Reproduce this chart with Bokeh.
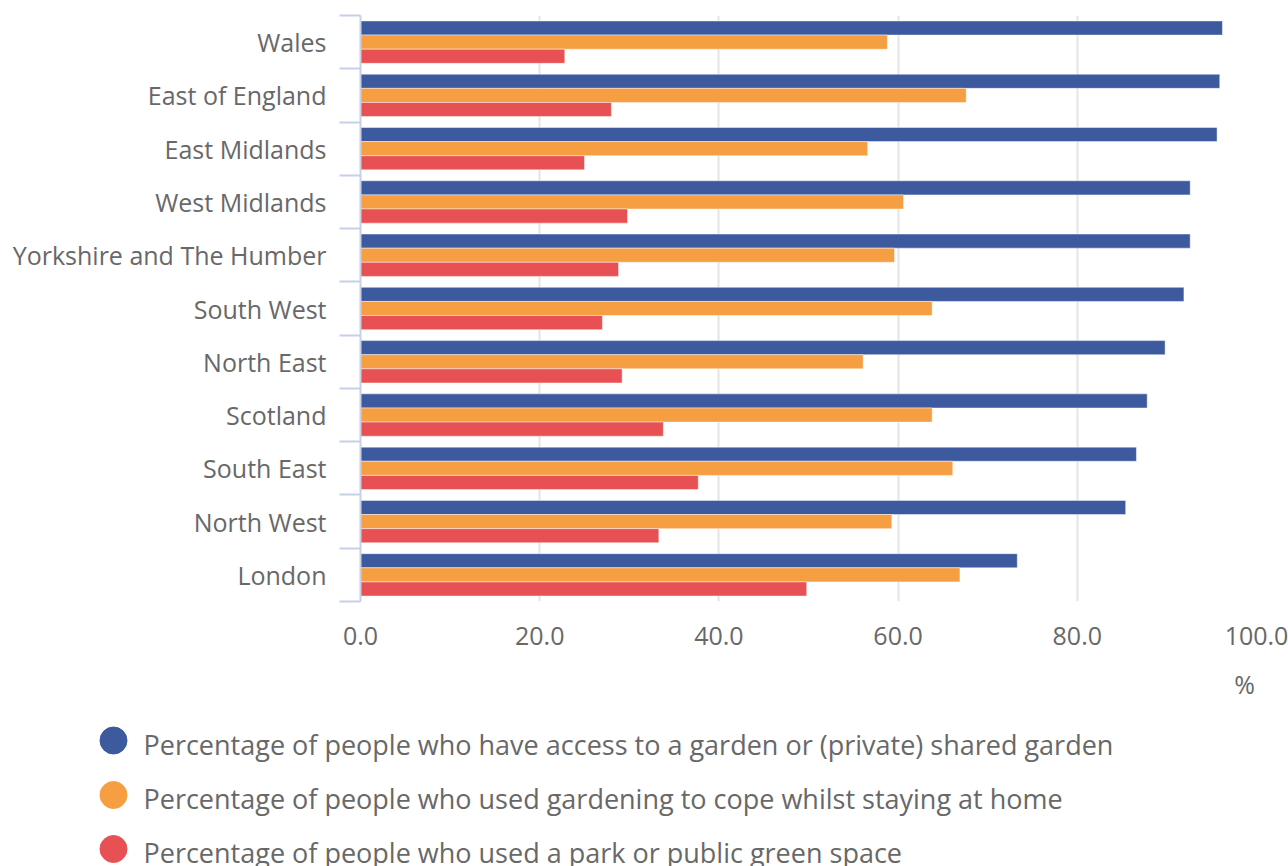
from bokeh.plotting import figure
from bokeh.layouts import column
from bokeh.models import (Range1d, FixedTicker, ColumnDataSource, PrintfTickFormatter)
from bokeh.core.properties import value
from bokeh.transform import dodge
from bokeh.embed import file_html
from bokeh.resources import INLINE

regions = ["Wales", "East of England", "East Midlands", "West Midlands",
           "Yorkshire and The Humber", "South West", "North East", "Scotland",
           "South East", "North West", "London"]
garden_access = [96.2, 95.9, 95.6, 92.6, 92.6, 91.9, 89.8, 87.8, 86.6, 85.4, 73.3]
gardening_cope = [58.8, 67.6, 56.6, 60.6, 59.6, 63.8, 56.1, 63.8, 66.1, 59.3, 66.9]
park_use = [22.8, 28.0, 25.0, 29.8, 28.8, 27.0, 29.2, 33.8, 37.7, 33.3, 49.8]
series_names = ["Percentage of people who have access to a garden or (private) shared garden",
                "Percentage of people who used gardening to cope whilst staying at home",
                "Percentage of people who used a park or public green space"]
x_ticks = [0, 20, 40, 60, 80, 100]
unit_label = "%"

colors = ["#3d5a9f", "#f59e42", "#e85153"]
FONT = "Open Sans"
FS = "25px"
TXT = "#686868"

n = len(regions)
ypos = [n - 1 - i + 0.5 for i in range(n)]
src = ColumnDataSource(dict(y=ypos, a=garden_access, b=gardening_cope, c=park_use))

p = figure(width=1288, height=660, x_range=Range1d(0, 100), y_range=Range1d(0, n),
           output_backend="svg", toolbar_location=None,
           min_border_left=360, min_border_right=32, min_border_top=15,
           min_border_bottom=59)
p.outline_line_color = None
p.frame_align = False

h = 0.265
off = 0.265
for col, o, c in zip(["a", "b", "c"], [off, 0, -off], colors):
    p.hbar(y=dodge("y", o, range=p.y_range), left=0, right=col, height=h, source=src,
           fill_color=c, line_color="white", line_alpha=0.45, line_width=1)

# x axis
xa = p.xaxis[0]
xa.ticker = FixedTicker(ticks=x_ticks)
xa.formatter = PrintfTickFormatter(format="%.1f")
xa.axis_line_color = None
xa.major_tick_line_color = None
xa.minor_tick_line_color = None
xa.major_tick_out = 0
xa.major_tick_in = 0
xa.major_label_standoff = 25
xa.major_label_text_font = FONT
xa.major_label_text_font_size = FS
xa.major_label_text_color = TXT

p.xgrid.ticker = FixedTicker(ticks=x_ticks)
p.xgrid.grid_line_color = "#e4e4e4"
p.xgrid.grid_line_width = 2
p.ygrid.grid_line_color = None

# y axis
ya = p.yaxis[0]
ya.ticker = FixedTicker(ticks=ypos, minor_ticks=list(range(n + 1)))
ya.major_label_overrides = {y: r for y, r in zip(ypos, regions)}
ya.axis_line_color = "#c6d1e7"
ya.axis_line_width = 2
ya.major_tick_line_color = None
ya.major_tick_out = 0
ya.major_tick_in = 0
ya.minor_tick_line_color = "#c6d1e7"
ya.minor_tick_line_width = 2
ya.minor_tick_out = 21
ya.minor_tick_in = 0
ya.major_label_standoff = 13
ya.major_label_text_font = FONT
ya.major_label_text_font_size = FS
ya.major_label_text_color = TXT

# legend / unit panel
H2 = 206
p2 = figure(width=1288, height=H2, x_range=Range1d(0, 1288), y_range=Range1d(H2, 0),
            output_backend="svg", toolbar_location=None, min_border=0,
            x_axis_type=None, y_axis_type=None)
p2.outline_line_color = None
p2.frame_align = False
p2.xgrid.visible = False
p2.ygrid.visible = False

p2.text(x=[1244], y=[23], text=[unit_label], text_align="center", text_baseline="middle",
        text_font=value(FONT), text_font_size=FS, text_color=TXT)

leg_src = ColumnDataSource(dict(x=[113] * 3, tx=[143] * 3, cy=[80, 134.5, 188.5],
                                ty=[84, 138, 192], name=series_names, color=colors))
p2.scatter(x="x", y="cy", marker="circle", size=27, fill_color="color", line_color="color",
           source=leg_src)
p2.text(x="tx", y="ty", text="name", text_align="left", text_baseline="alphabetic",
        text_font=value(FONT), text_font_size="27px", text_color=TXT, source=leg_src)

layout = column(p, p2, spacing=0)
open("out.html", "w").write(file_html(layout, INLINE))
